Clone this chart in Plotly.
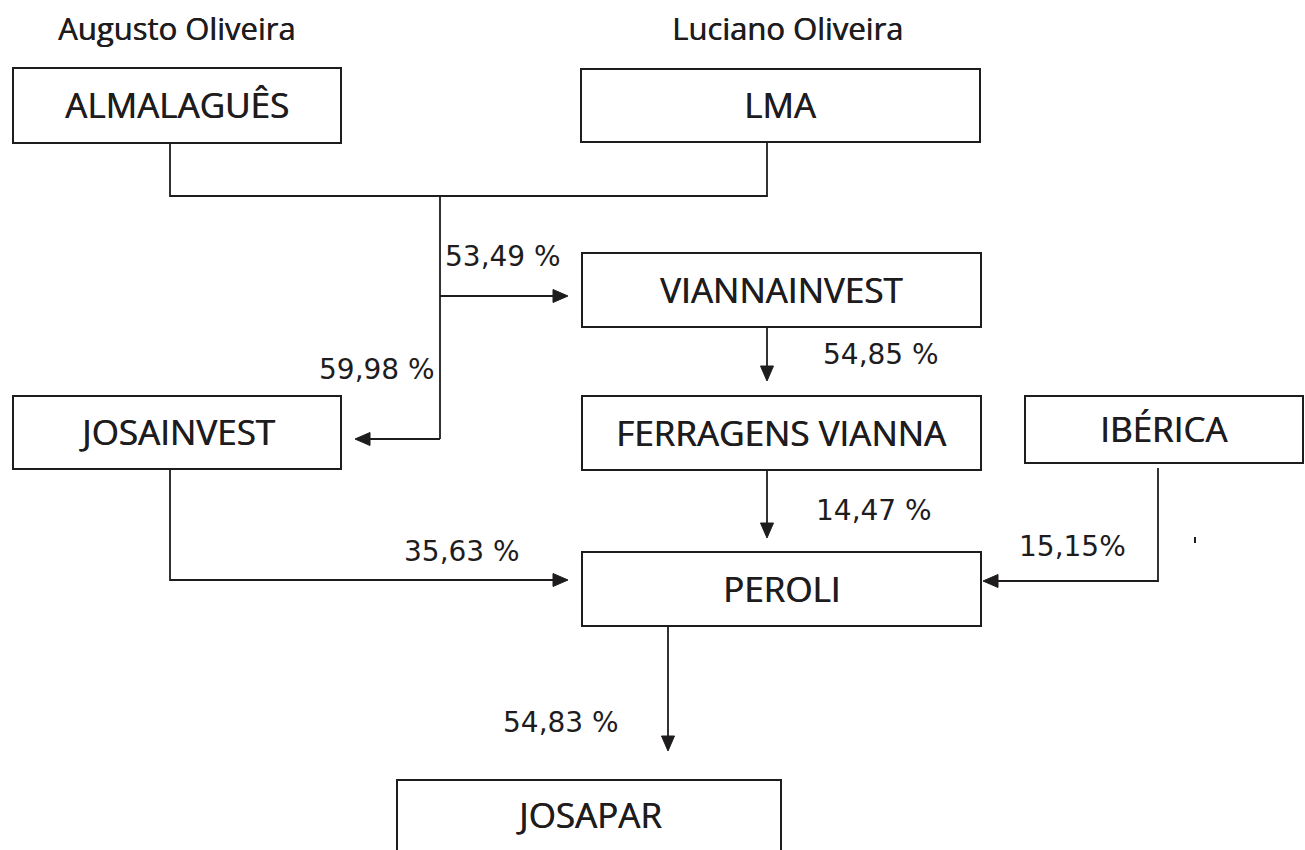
import plotly.graph_objects as go

# ---- data ----
owners = ["Augusto Oliveira", "Luciano Oliveira"]
entities = ["ALMALAGUÊS", "LMA", "VIANNAINVEST", "JOSAINVEST",
            "FERRAGENS VIANNA", "IBÉRICA", "PEROLI", "JOSAPAR"]
stakes = ["53,49 %", "59,98 %", "54,85 %", "14,47 %", "35,63 %", "15,15%", "54,83 %"]

# ---- layout geometry (pixel coordinates of the diagram) ----
W, H = 1305, 850
owner_pos = [(176, 28), (787, 28)]
box_geom = {
    "ALMALAGUÊS": (13, 68, 341, 143),
    "LMA": (581, 69, 980, 142),
    "VIANNAINVEST": (582, 253, 981, 327),
    "JOSAINVEST": (13, 396, 341, 469),
    "FERRAGENS VIANNA": (582, 396, 981, 470),
    "IBÉRICA": (1025, 396, 1303, 463),
    "PEROLI": (582, 552, 981, 626),
    "JOSAPAR": (397, 780, 781, 870),
}
label_center_y = {"JOSAPAR": 814}
stake_pos = [(503, 256), (377, 369), (881, 354), (874, 510), (462, 551), (1072, 546), (561, 722)]

# connectors: polyline points, and whether the last point is an arrow tip
connectors = [
    ([(170, 143), (170, 196), (767, 196), (767, 142)], None),
    ([(440, 196), (440, 439)], None),
    ([(440, 296), (568, 296)], "right"),
    ([(440, 439), (355, 439)], "left"),
    ([(767, 327), (767, 381)], "down"),
    ([(767, 470), (767, 538)], "down"),
    ([(170, 469), (170, 580), (568, 580)], "right"),
    ([(1158, 468), (1158, 581), (983, 581)], "left"),
    ([(668, 626), (668, 751)], "down"),
]

INK = "#1e1c1d"
THICKEN = "0.6px 0 0 %s" % INK
HEAD_L, HEAD_W = 15, 6.5

fig = go.Figure()
shapes = []
annotations = []

# boxes
for name in entities:
    x0, y0, x1, y1 = box_geom[name]
    shapes.append(dict(type="rect", xref="x", yref="y", x0=x0, y0=y0, x1=x1, y1=y1,
                       line=dict(color=INK, width=2), fillcolor="white", layer="below"))
    cy = label_center_y.get(name, (y0 + y1) / 2 - 1)
    annotations.append(dict(x=(x0 + x1) / 2, y=cy, xref="x", yref="y", text=name,
                            showarrow=False,
                            font=dict(family="Open Sans", size=35, color=INK, shadow=THICKEN),
                            xanchor="center", yanchor="middle"))

# connectors
for pts, head in connectors:
    xs = [p[0] for p in pts]
    ys = [p[1] for p in pts]
    if head:
        tx, ty = pts[-1]
        if head == "right":
            xs[-1] = tx - HEAD_L + 1
            tri = [(tx, ty), (tx - HEAD_L, ty - HEAD_W), (tx - HEAD_L, ty + HEAD_W)]
        elif head == "left":
            xs[-1] = tx + HEAD_L - 1
            tri = [(tx, ty), (tx + HEAD_L, ty - HEAD_W), (tx + HEAD_L, ty + HEAD_W)]
        else:
            ys[-1] = ty - HEAD_L + 1
            tri = [(tx, ty), (tx - HEAD_W, ty - HEAD_L), (tx + HEAD_W, ty - HEAD_L)]
        path = "M {} {} L {} {} L {} {} Z".format(*[c for p in tri for c in p])
        shapes.append(dict(type="path", xref="x", yref="y", path=path,
                           fillcolor=INK, line=dict(color=INK, width=1)))
    fig.add_trace(go.Scatter(x=xs, y=ys, mode="lines", line=dict(color=INK, width=1.8),
                             hoverinfo="skip", showlegend=False))

# small stray tick mark near IBÉRICA connector
fig.add_trace(go.Scatter(x=[1195, 1195], y=[537, 543], mode="lines",
                         line=dict(color=INK, width=2), hoverinfo="skip", showlegend=False))

# owner names
for name, (x, y) in zip(owners, owner_pos):
    annotations.append(dict(x=x, y=y, xref="x", yref="y", text=name, showarrow=False,
                            font=dict(family="Open Sans", size=31, color=INK, shadow=THICKEN),
                            xanchor="center", yanchor="middle"))

# stake labels
for s, (x, y) in zip(stakes, stake_pos):
    annotations.append(dict(x=x, y=y, xref="x", yref="y", text=s, showarrow=False,
                            font=dict(family="DejaVu Sans", size=28, color=INK),
                            xanchor="center", yanchor="middle"))

fig.update_layout(
    width=W, height=H,
    margin=dict(l=0, r=0, t=0, b=0),
    paper_bgcolor="white", plot_bgcolor="white",
    xaxis=dict(range=[0, W], visible=False, fixedrange=True),
    yaxis=dict(range=[H, 0], visible=False, fixedrange=True),
    shapes=shapes, annotations=annotations,
    showlegend=False,
)

fig.write_html("out.html", config={"displayModeBar": False})

# remove the browser's default page margin so the diagram sits at the page origin
with open("out.html", encoding="utf-8") as f:
    html = f.read()
html = html.replace("<head>", "<head><style>html,body{margin:0;padding:0;overflow:hidden;}</style>", 1)
with open("out.html", "w", encoding="utf-8") as f:
    f.write(html)
